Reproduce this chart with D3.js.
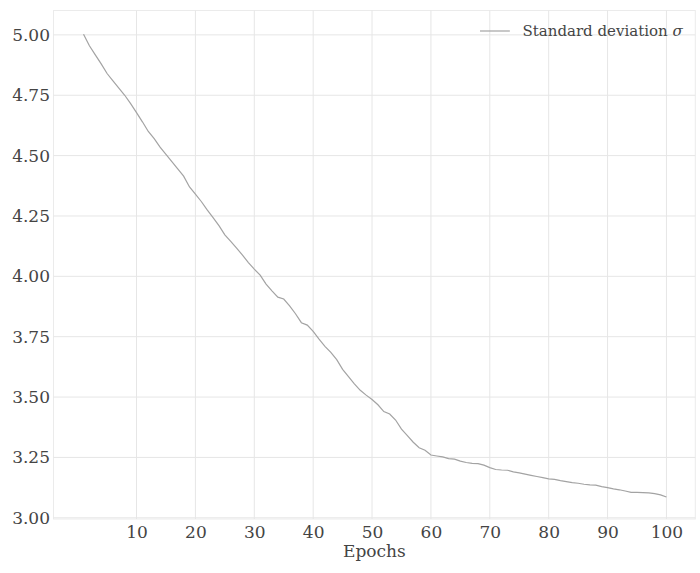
<!DOCTYPE html>
<html>
<head>
<meta charset="utf-8">
<script src="https://cdn.jsdelivr.net/npm/d3@7"></script>
<style>
  body { margin: 0; background: #fff; }
  text { font-family: "DejaVu Serif", serif; }
</style>
</head>
<body>
<div id="chart"></div>
<script>
var W = 700, H = 573;
var margin = { top: 10.5, right: 4.7, bottom: 54, left: 53.5 };
var width = W - margin.left - margin.right,
    height = H - margin.top - margin.bottom;

// Data
var epochs = d3.range(1, 101);
var sigma = [
  5.003, 4.955, 4.917, 4.880, 4.840, 4.810, 4.780, 4.750, 4.715, 4.678,
  4.640, 4.600, 4.570, 4.535, 4.505, 4.475, 4.445, 4.415, 4.370, 4.340,
  4.310, 4.275, 4.243, 4.210, 4.172, 4.145, 4.117, 4.088, 4.057, 4.030,
  4.005, 3.968, 3.940, 3.914, 3.906, 3.878, 3.845, 3.808, 3.798, 3.772,
  3.740, 3.710, 3.685, 3.655, 3.615, 3.585, 3.555, 3.528, 3.508, 3.490,
  3.468, 3.440, 3.430, 3.405, 3.367, 3.340, 3.313, 3.290, 3.280, 3.260,
  3.256, 3.252, 3.245, 3.243, 3.235, 3.229, 3.225, 3.224, 3.218, 3.208,
  3.200, 3.198, 3.197, 3.190, 3.186, 3.181, 3.176, 3.171, 3.166, 3.161,
  3.159, 3.154, 3.150, 3.146, 3.143, 3.139, 3.136, 3.135, 3.129, 3.125,
  3.120, 3.116, 3.111, 3.105, 3.105, 3.104, 3.103, 3.100, 3.095, 3.086
];
var xTicks = [10, 20, 30, 40, 50, 60, 70, 80, 90, 100];
var yTicks = [3.00, 3.25, 3.50, 3.75, 4.00, 4.25, 4.50, 4.75, 5.00];
var seriesName = "Standard deviation ";

var data = epochs.map(function(e, i) { return { epoch: e, value: sigma[i] }; });

var xScale = d3.scaleLinear().domain([-4.1, 104.9]).range([0, width]);
var yScale = d3.scaleLinear().domain([2.995, 5.101]).range([height, 0]);

var svg = d3.select("#chart").append("svg")
    .attr("width", W)
    .attr("height", H)
  .append("g")
    .attr("transform", "translate(" + margin.left + "," + margin.top + ")");

// frame
svg.append("rect")
  .attr("width", width).attr("height", height)
  .attr("fill", "none").attr("stroke", "#ebebeb").attr("stroke-width", 1);

// grid
svg.append("g").selectAll("line").data(xTicks).enter().append("line")
  .attr("x1", function(d) { return xScale(d); })
  .attr("x2", function(d) { return xScale(d); })
  .attr("y1", 0).attr("y2", height)
  .attr("stroke", "#e6e6e6").attr("stroke-width", 1);

svg.append("g").selectAll("line").data(yTicks).enter().append("line")
  .attr("x1", 0).attr("x2", width)
  .attr("y1", function(d) { return yScale(d); })
  .attr("y2", function(d) { return yScale(d); })
  .attr("stroke", "#e6e6e6").attr("stroke-width", 1);

// axes
var xAxis = svg.append("g")
  .attr("transform", "translate(0," + height + ")")
  .call(d3.axisBottom(xScale).tickValues(xTicks).tickSize(0).tickPadding(7));
var yAxis = svg.append("g")
  .call(d3.axisLeft(yScale).tickValues(yTicks).tickFormat(d3.format(".2f")).tickSize(0).tickPadding(3.5));

[xAxis, yAxis].forEach(function(a) {
  a.select(".domain").remove();
  a.selectAll("text")
    .style("font-family", "'DejaVu Serif', serif")
    .style("font-size", "17px")
    .attr("fill", "#444");
});

svg.append("text")
  .attr("x", width / 2)
  .attr("y", height + 38)
  .attr("text-anchor", "middle")
  .attr("fill", "#444")
  .style("font-size", "17px")
  .text("Epochs");

// line
var line = d3.line()
  .x(function(d) { return xScale(d.epoch); })
  .y(function(d) { return yScale(d.value); });

svg.append("path")
  .datum(data)
  .attr("fill", "none")
  .attr("stroke", "#a3a3a3")
  .attr("stroke-width", 1.2)
  .attr("d", line);

// legend
var legend = svg.append("g").attr("transform", "translate(" + (480 - margin.left) + "," + (31 - margin.top) + ")");
legend.append("line")
  .attr("x1", 0).attr("x2", 30).attr("y1", 0).attr("y2", 0)
  .attr("stroke", "#a3a3a3").attr("stroke-width", 1.2);
var lt = legend.append("text")
  .attr("x", 42.5).attr("y", 5)
  .attr("fill", "#444")
  .style("font-size", "15px");
lt.append("tspan").text(seriesName);
lt.append("tspan").style("font-style", "italic").text("σ");
</script>
</body>
</html>
